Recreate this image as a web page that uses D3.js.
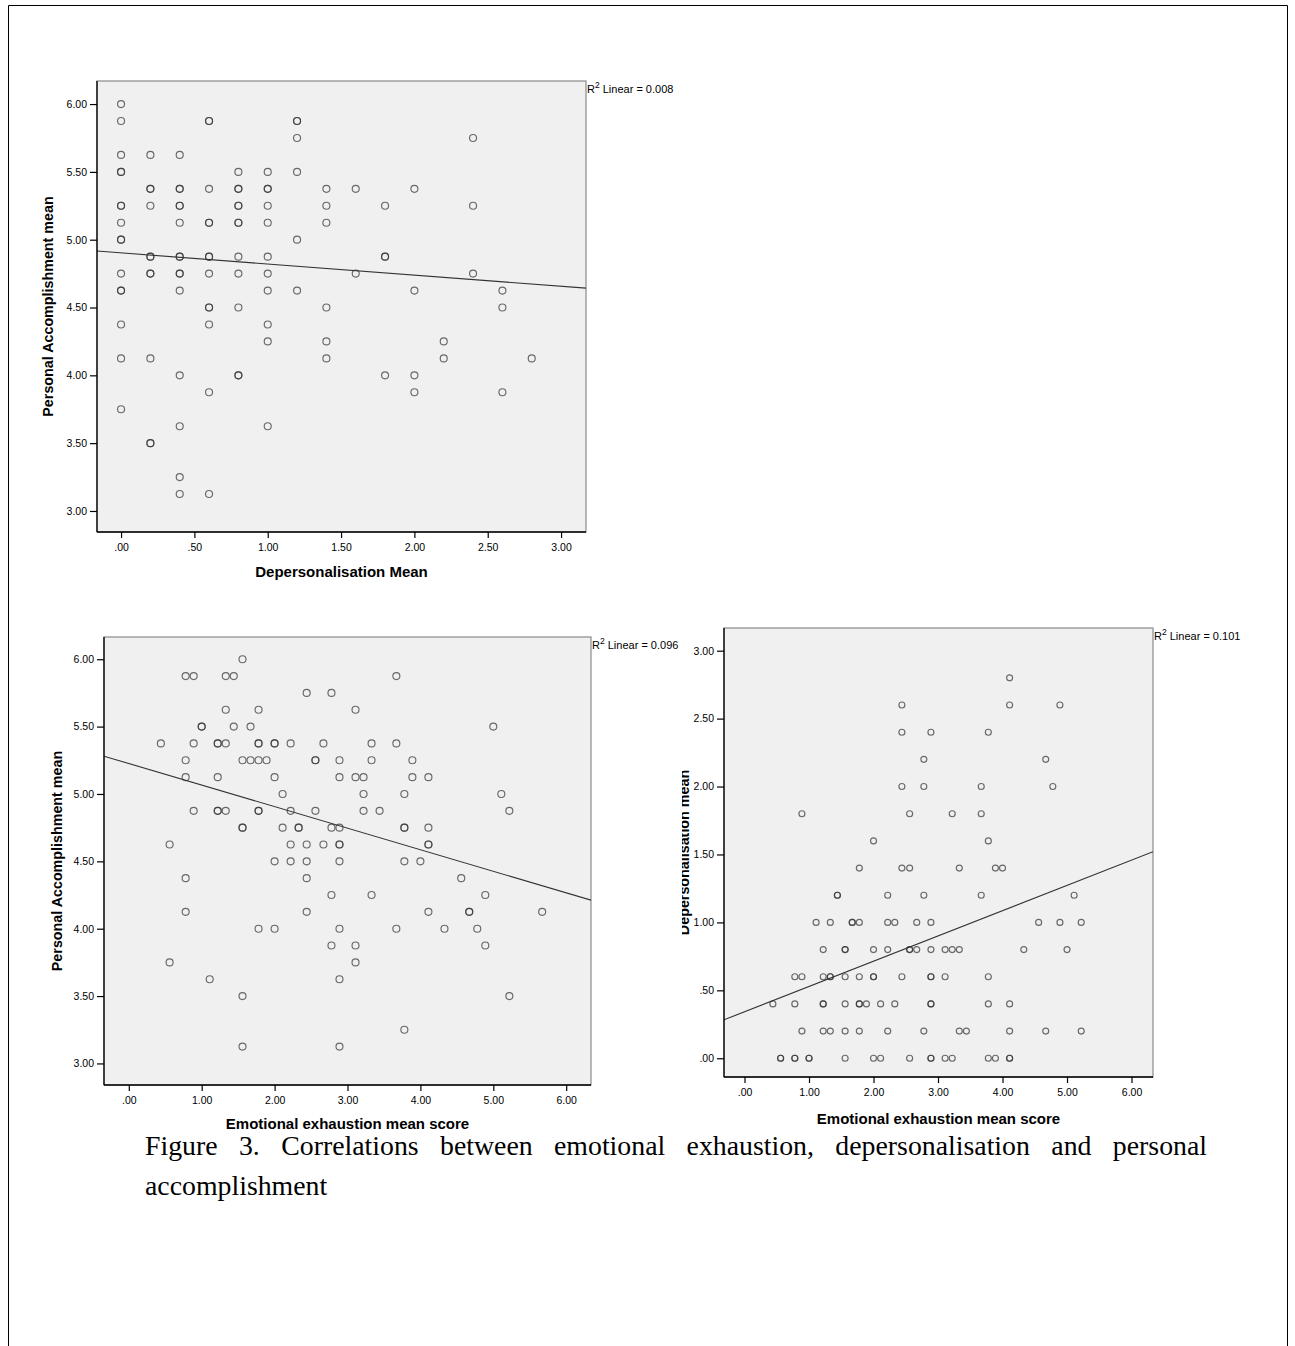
<!DOCTYPE html>
<html>
<head>
<meta charset="utf-8">
<script src="https://cdn.jsdelivr.net/npm/d3@7"></script>
<style>
  html, body { margin: 0; padding: 0; background: #fff; }
  svg { display: block; }
</style>
</head>
<body>
<svg id="fig" width="1295" height="1346"></svg>
<script>
// ---------- DATA ----------
// Chart A: Depersonalisation Mean (x) vs Personal Accomplishment mean (y)
const dpVsPa = [
  [0,6.0],[0,5.875],[0,5.625],[0,5.5],[0,5.5],[0,5.25],[0,5.25],[0,5.125],[0,5.0],[0,5.0],[0,4.75],[0,4.625],[0,4.625],[0,4.375],[0,4.125],[0,3.75],
  [0.2,5.625],[0.2,5.375],[0.2,5.375],[0.2,5.25],[0.2,4.875],[0.2,4.875],[0.2,4.75],[0.2,4.75],[0.2,4.125],[0.2,3.5],[0.2,3.5],
  [0.4,5.625],[0.4,5.375],[0.4,5.375],[0.4,5.25],[0.4,5.25],[0.4,5.125],[0.4,4.875],[0.4,4.875],[0.4,4.75],[0.4,4.75],[0.4,4.625],[0.4,4.0],[0.4,3.625],[0.4,3.25],[0.4,3.125],
  [0.6,5.875],[0.6,5.875],[0.6,5.375],[0.6,5.125],[0.6,5.125],[0.6,4.875],[0.6,4.875],[0.6,4.75],[0.6,4.5],[0.6,4.5],[0.6,4.375],[0.6,3.875],[0.6,3.125],
  [0.8,5.5],[0.8,5.375],[0.8,5.375],[0.8,5.25],[0.8,5.25],[0.8,5.125],[0.8,5.125],[0.8,4.875],[0.8,4.75],[0.8,4.5],[0.8,4.0],[0.8,4.0],
  [1.0,5.5],[1.0,5.375],[1.0,5.375],[1.0,5.25],[1.0,5.125],[1.0,4.875],[1.0,4.75],[1.0,4.625],[1.0,4.375],[1.0,4.25],[1.0,3.625],
  [1.2,5.875],[1.2,5.875],[1.2,5.75],[1.2,5.5],[1.2,5.0],[1.2,4.625],
  [1.4,5.375],[1.4,5.25],[1.4,5.125],[1.4,4.5],[1.4,4.25],[1.4,4.125],
  [1.6,5.375],[1.6,4.75],
  [1.8,5.25],[1.8,4.875],[1.8,4.875],[1.8,4.0],
  [2.0,5.375],[2.0,4.625],[2.0,4.0],[2.0,3.875],
  [2.2,4.25],[2.2,4.125],
  [2.4,5.75],[2.4,5.25],[2.4,4.75],
  [2.6,4.625],[2.6,4.5],[2.6,3.875],
  [2.8,4.125]
];

// Chart B: Emotional exhaustion mean score (x) vs Personal Accomplishment mean (y)
const eeVsPa = [
  [1.56,6.0],
  [0.78,5.875],[0.89,5.875],[1.33,5.875],[1.44,5.875],[3.67,5.875],
  [2.44,5.75],[2.78,5.75],
  [1.33,5.625],[1.78,5.625],[3.11,5.625],
  [1.0,5.5],[1.0,5.5],[1.44,5.5],[1.67,5.5],[5.0,5.5],
  [0.44,5.375],[0.89,5.375],[1.22,5.375],[1.22,5.375],[1.33,5.375],[1.78,5.375],[1.78,5.375],[2.0,5.375],[2.0,5.375],[2.22,5.375],[2.67,5.375],[3.33,5.375],[3.67,5.375],
  [0.78,5.25],[1.56,5.25],[1.67,5.25],[1.78,5.25],[1.89,5.25],[2.56,5.25],[2.56,5.25],[2.89,5.25],[3.33,5.25],[3.89,5.25],
  [0.78,5.125],[1.22,5.125],[2.0,5.125],[2.89,5.125],[3.11,5.125],[3.22,5.125],[3.89,5.125],[4.11,5.125],
  [2.11,5.0],[3.22,5.0],[3.78,5.0],[5.11,5.0],
  [0.89,4.875],[1.22,4.875],[1.22,4.875],[1.33,4.875],[1.78,4.875],[1.78,4.875],[2.22,4.875],[2.56,4.875],[3.22,4.875],[3.44,4.875],[5.22,4.875],
  [1.56,4.75],[1.56,4.75],[2.11,4.75],[2.33,4.75],[2.33,4.75],[2.78,4.75],[2.89,4.75],[3.78,4.75],[3.78,4.75],[4.11,4.75],
  [0.56,4.625],[2.22,4.625],[2.44,4.625],[2.67,4.625],[2.89,4.625],[2.89,4.625],[4.11,4.625],[4.11,4.625],
  [2.0,4.5],[2.22,4.5],[2.44,4.5],[2.89,4.5],[3.78,4.5],[4.0,4.5],
  [0.78,4.375],[2.44,4.375],[4.56,4.375],
  [2.78,4.25],[3.33,4.25],[4.89,4.25],
  [0.78,4.125],[2.44,4.125],[4.11,4.125],[4.67,4.125],[4.67,4.125],[5.67,4.125],
  [1.78,4.0],[2.0,4.0],[2.89,4.0],[3.67,4.0],[4.33,4.0],[4.78,4.0],
  [2.78,3.875],[3.11,3.875],[4.89,3.875],
  [0.56,3.75],[3.11,3.75],
  [1.11,3.625],[2.89,3.625],
  [1.56,3.5],[5.22,3.5],
  [3.78,3.25],
  [1.56,3.125],[2.89,3.125]
];

// Chart C: Emotional exhaustion mean score (x) vs Depersonalisation mean (y)
const eeVsDp = [
  [4.11,2.8],
  [2.44,2.6],[4.11,2.6],[4.89,2.6],
  [2.44,2.4],[2.89,2.4],[3.78,2.4],
  [2.78,2.2],[4.67,2.2],
  [2.44,2.0],[2.78,2.0],[3.67,2.0],[4.78,2.0],
  [0.89,1.8],[2.56,1.8],[3.22,1.8],[3.67,1.8],
  [2.0,1.6],[3.78,1.6],
  [1.78,1.4],[2.44,1.4],[2.56,1.4],[3.33,1.4],[3.89,1.4],[4.0,1.4],
  [1.44,1.2],[1.44,1.2],[2.22,1.2],[2.78,1.2],[3.67,1.2],[5.11,1.2],
  [1.11,1.0],[1.33,1.0],[1.67,1.0],[1.67,1.0],[1.78,1.0],[2.22,1.0],[2.33,1.0],[2.67,1.0],[2.89,1.0],[4.56,1.0],[4.89,1.0],[5.22,1.0],
  [1.22,0.8],[1.56,0.8],[1.56,0.8],[2.0,0.8],[2.22,0.8],[2.56,0.8],[2.56,0.8],[2.67,0.8],[2.89,0.8],[3.11,0.8],[3.22,0.8],[3.33,0.8],[4.33,0.8],[5.0,0.8],
  [0.78,0.6],[0.89,0.6],[1.22,0.6],[1.33,0.6],[1.33,0.6],[1.56,0.6],[1.78,0.6],[2.0,0.6],[2.0,0.6],[2.44,0.6],[2.89,0.6],[2.89,0.6],[3.11,0.6],[3.78,0.6],
  [0.44,0.4],[0.78,0.4],[1.22,0.4],[1.22,0.4],[1.56,0.4],[1.78,0.4],[1.78,0.4],[1.89,0.4],[2.11,0.4],[2.33,0.4],[2.89,0.4],[2.89,0.4],[3.78,0.4],[4.11,0.4],
  [0.89,0.2],[1.22,0.2],[1.33,0.2],[1.56,0.2],[1.78,0.2],[2.22,0.2],[2.78,0.2],[3.33,0.2],[3.44,0.2],[4.11,0.2],[4.67,0.2],[5.22,0.2],
  [0.56,0.0],[0.56,0.0],[0.78,0.0],[0.78,0.0],[1.0,0.0],[1.0,0.0],[1.56,0.0],[2.0,0.0],[2.11,0.0],[2.56,0.0],[2.89,0.0],[2.89,0.0],[3.11,0.0],[3.22,0.0],[3.78,0.0],[3.89,0.0],[4.11,0.0],[4.11,0.0]
];

// Linear fit lines (intercept, slope) and R² values as printed
const fitA = { intercept: 4.903, slope: -0.082, r2: "0.008" };
const fitB = { intercept: 5.226, slope: -0.160, r2: "0.096" };
const fitC = { intercept: 0.342, slope: 0.186,  r2: "0.101" };

// Tick values
const ticksA_x = [0, 0.5, 1, 1.5, 2, 2.5, 3];
const ticksPA_y = [3, 3.5, 4, 4.5, 5, 5.5, 6];
const ticksEE_x = [0, 1, 2, 3, 4, 5, 6];
const ticksDP_y = [0, 0.5, 1, 1.5, 2, 2.5, 3];

// Titles
const titleDPMean = "Depersonalisation Mean";
const titlePA = "Personal Accomplishment mean";
const titleEE = "Emotional exhaustion mean score";
const titleDPmean = "Depersonalisation mean";
const captionLines = [
  "Figure 3. Correlations between emotional exhaustion, depersonalisation and personal",
  "accomplishment"
];

// ---------- DRAWING ----------
const svg = d3.select("#fig");
const SANS = "Arial, 'Liberation Sans', sans-serif";

svg.append("path")
  .attr("d", "M8.5,1346 L8.5,5.5 L1287.5,5.5 L1287.5,1346")
  .attr("fill", "none").attr("stroke", "#000").attr("stroke-width", 1);

const fmt = v => { const s = d3.format(".2f")(v); return s.startsWith("0.") ? s.slice(1) : s; };

function drawChart(cfg, idx) {
  const { left, right, top, bottom } = cfg.frame;
  const x = d3.scaleLinear().domain(cfg.xDomain).range([left, right]);
  const y = d3.scaleLinear().domain(cfg.yDomain).range([bottom, top]);
  const g = svg.append("g");

  g.append("rect").attr("x", left).attr("y", top)
    .attr("width", right - left).attr("height", bottom - top)
    .attr("fill", "#f0f0f0").attr("stroke", "#8a8a8a").attr("stroke-width", 1.2);

  const clipId = "clip" + idx;
  svg.append("clipPath").attr("id", clipId).append("rect")
    .attr("x", left).attr("y", top).attr("width", right - left).attr("height", bottom - top);

  g.append("g").selectAll("circle").data(cfg.points).join("circle")
    .attr("cx", d => x(d[0])).attr("cy", d => y(d[1]))
    .attr("r", cfg.r)
    .attr("fill", "none")
    .attr("stroke", "#333")
    .attr("stroke-opacity", 0.72)
    .attr("stroke-width", 1.15);

  const [x0, x1] = cfg.xDomain;
  g.append("line").attr("clip-path", `url(#${clipId})`)
    .attr("x1", x(x0)).attr("y1", y(cfg.fit.intercept + cfg.fit.slope * x0))
    .attr("x2", x(x1)).attr("y2", y(cfg.fit.intercept + cfg.fit.slope * x1))
    .attr("stroke", "#333").attr("stroke-width", 1.1);

  const xAxis = d3.axisBottom(x).tickValues(cfg.xTicks).tickFormat(fmt).tickSize(6).tickPadding(6);
  const yAxis = d3.axisLeft(y).tickValues(cfg.yTicks).tickFormat(fmt).tickSize(7).tickPadding(3);
  const gx = g.append("g").attr("transform", `translate(0,${bottom})`).call(xAxis);
  const gy = g.append("g").attr("transform", `translate(${left},0)`).call(yAxis);
  [gx, gy].forEach(a => {
    a.select(".domain").attr("stroke", "#000").attr("stroke-width", 1.3);
    a.selectAll(".tick line").attr("stroke", "#000").attr("stroke-width", 1.2);
    a.selectAll(".tick text").attr("fill", "#000")
      .style("font-family", SANS).style("font-size", "10.5px");
  });
  gx.select(".domain").attr("d", `M${left},0H${right}`);
  gy.select(".domain").attr("d", `M0,${bottom}V${top}`);

  g.append("text")
    .attr("x", (left + right) / 2).attr("y", cfg.xTitleY)
    .attr("text-anchor", "middle")
    .style("font-family", SANS)
    .style("font-weight", "bold").style("font-size", "15px")
    .text(cfg.xTitle);

  const ytG = g.append("g");
  if (cfg.yTitleClip != null) {
    const cid = "ytclip" + idx;
    svg.append("clipPath").attr("id", cid).append("rect")
      .attr("x", cfg.yTitleClip).attr("y", top).attr("width", 60).attr("height", bottom - top);
    ytG.attr("clip-path", `url(#${cid})`);
  }
  ytG.append("text")
    .attr("transform", `translate(${cfg.yTitleX},${(top + bottom) / 2}) rotate(-90)`)
    .attr("text-anchor", "middle")
    .style("font-family", SANS)
    .style("font-weight", "bold").style("font-size", "14.3px")
    .text(cfg.yTitle);

  const r2 = g.append("text")
    .attr("x", right + 1).attr("y", top + cfg.r2dy)
    .style("font-family", SANS)
    .style("font-size", "11px").attr("fill", "#000");
  r2.append("tspan").text("R");
  r2.append("tspan").attr("dy", -5).style("font-size", "8.5px").text("2");
  r2.append("tspan").attr("dy", 5).text(" Linear = " + cfg.fit.r2);
}

drawChart({
  frame: { left: 97, right: 586, top: 81, bottom: 532 },
  xDomain: [-0.164, 3.17], yDomain: [2.845, 6.17],
  points: dpVsPa, fit: fitA, r: 3.5,
  xTicks: ticksA_x, yTicks: ticksPA_y,
  xTitle: titleDPMean, yTitle: titlePA,
  xTitleY: 577, yTitleX: 53, r2dy: 12
}, 0);

drawChart({
  frame: { left: 104, right: 591, top: 637, bottom: 1085 },
  xDomain: [-0.34, 6.34], yDomain: [2.84, 6.165],
  points: eeVsPa, fit: fitB, r: 3.5,
  xTicks: ticksEE_x, yTicks: ticksPA_y,
  xTitle: titleEE, yTitle: titlePA,
  xTitleY: 1129, yTitleX: 62, r2dy: 12
}, 1);

drawChart({
  frame: { left: 724, right: 1153, top: 628, bottom: 1077 },
  xDomain: [-0.318, 6.333], yDomain: [-0.138, 3.167],
  points: eeVsDp, fit: fitC, r: 3,
  xTicks: ticksEE_x, yTicks: ticksDP_y,
  xTitle: titleEE, yTitle: titleDPmean,
  xTitleY: 1124, yTitleX: 689, yTitleClip: 682, r2dy: 12
}, 2);

// caption (first line justified to the text block width)
const capLeft = 145, capRight = 1207;
captionLines.forEach((line, i) => {
  const t = svg.append("text")
    .attr("x", capLeft).attr("y", 1155 + i * 40)
    .style("font-family", "'Liberation Serif', 'Times New Roman', serif")
    .style("font-size", "27.8px").attr("fill", "#000")
    .text(line);
  if (i < captionLines.length - 1) {
    const natural = t.node().getComputedTextLength();
    const spaces = (line.match(/ /g) || []).length;
    const extra = ((capRight - capLeft) - natural) / spaces;
    if (extra > 0) t.attr("word-spacing", extra);
  }
});
</script>
</body>
</html>
